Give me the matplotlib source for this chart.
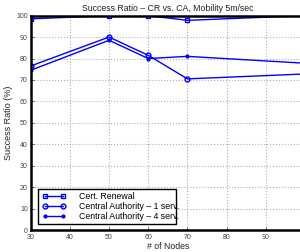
import matplotlib
matplotlib.use('Agg')
import matplotlib.pyplot as plt
from matplotlib.patches import Rectangle

plt.rcParams['font.family'] = ['Liberation Sans', 'DejaVu Sans']

# data
nodes = [30, 50, 60, 70, 100]
cert_renewal = [98.5, 100, 100, 97.8, 100]
ca_1serv = [76.5, 90, 81.5, 70.5, 72.8]
ca_4serv = [74.5, 88.5, 80, 81, 77.8]
labels = ['Cert. Renewal', 'Central Authority \u2013 1 serv.', 'Central Authority \u2013 4 serv.']

fig = plt.figure(figsize=(3.0, 2.52), dpi=100)
ax = fig.add_axes([0.102, 0.087, 0.915, 0.851])

ax.plot(nodes, cert_renewal, color='blue', lw=1.0, marker='s', ms=3.5, mfc='none', mew=1.0, label=labels[0])
ax.plot(nodes, ca_1serv, color='blue', lw=1.0, marker='o', ms=3.5, mfc='none', mew=1.0, label=labels[1])
ax.plot(nodes, ca_4serv, color='blue', lw=1.0, marker='.', ms=4, label=labels[2])

ax.set_xlim(30, 100)
ax.set_ylim(0, 100)
ax.set_xticks(range(30, 101, 10))
ax.set_yticks(range(0, 101, 10))
ax.grid(True, linestyle=':', color='#b0b0b0', lw=0.8)
for s in ax.spines.values():
    s.set_linewidth(1.8)
ax.tick_params(labelsize=5, colors='#444444', length=2, width=0.6, direction='in')
ax.tick_params(axis='x', pad=2.5)
ax.tick_params(axis='y', pad=2)

ax.set_title('Success Ratio \u2013 CR vs. CA, Mobility 5m/sec', fontsize=6.3, color='#222222', pad=3)
ax.set_xlabel('# of Nodes', fontsize=6.3, color='#222222', labelpad=1)
ax.set_ylabel('Success Ratio (%)', fontsize=6.5, color='#222222', labelpad=2)

# legend text runs past its box, like the original
leg = ax.legend(loc='lower left', bbox_to_anchor=(0.044, 0.042), fontsize=6.3, numpoints=2,
                handlelength=2.6, frameon=False, borderpad=0, borderaxespad=0,
                labelspacing=0.1, handletextpad=1.5)
box = Rectangle((38 / 300, 28 / 252), 138 / 300, 35 / 252, transform=fig.transFigure,
                facecolor='white', edgecolor='black', lw=1.0, zorder=4, clip_on=False)
ax.add_patch(box)
leg.set_zorder(5)

fig.savefig('out.png', dpi=100)
